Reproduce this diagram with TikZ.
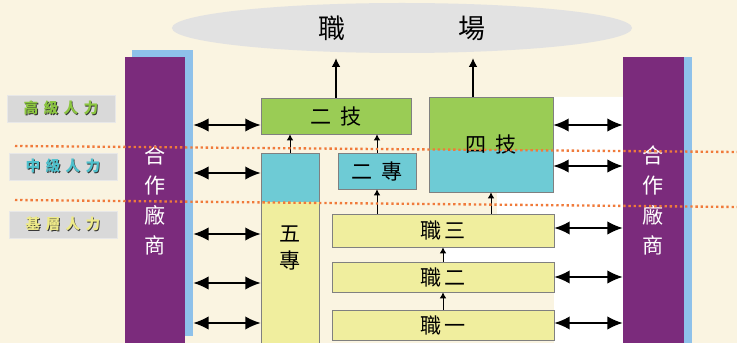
\documentclass[tikz,border=0pt]{standalone}
\usepackage{fontspec}
\newfontfamily\cjk{Noto Sans CJK TC}
\usetikzlibrary{arrows.meta}
\usetikzlibrary{fit}
\usetikzlibrary{shapes.geometric}

\definecolor{cream}{HTML}{FAF4E1}
\definecolor{ellgray}{HTML}{E2E2E2}
\definecolor{barpurple}{HTML}{7B2B7C}
\definecolor{shadeblue}{HTML}{8EC1EA}
\definecolor{boxgreen}{HTML}{9ACC55}
\definecolor{boxcyan}{HTML}{6ECBD5}
\definecolor{boxyellow}{HTML}{F0EE9E}
\definecolor{boxgray}{HTML}{808080}
\definecolor{dotorange}{HTML}{F07A3A}
\definecolor{labgray}{HTML}{D9D9D9}
\definecolor{labgreen}{HTML}{8CC641}
\definecolor{labcyan}{HTML}{4DC0CC}
\definecolor{labyellow}{HTML}{EEEA88}

\newcommand{\gap}{\hspace{2.5mm}}
\newcommand{\lgap}{\hspace{1.6mm}}
% coloured text with a dark shadow
\newcommand{\shadowed}[2]{\makebox[0pt][l]{\kern0.7pt\raisebox{-0.7pt}{\color{black!80}#2}}{\color{#1}#2}}

\begin{document}
\begin{tikzpicture}[
    x=0.03cm, y=-0.03cm,
    font=\cjk,
    box/.style={draw=boxgray, line width=0.6pt, inner sep=0pt},
    txt/.style={label={[font=\cjk\fontsize{18}{21}\selectfont]center:#1}},
    bar/.style={fill=barpurple, inner sep=0pt},
    bartxt/.style={label={[font=\cjk\fontsize{18}{25.6}\selectfont, text=white,
        align=center]center:#1}},
    lab/.style={fill=labgray, draw=labgray!60!white, inner sep=0pt},
    labtxt/.style={label={[font=\cjk\bfseries\fontsize{12.5}{14}\selectfont]center:#1}},
    dbl/.style={{Latex[length=4.6mm,width=4mm]}-{Latex[length=4.6mm,width=4mm]},
        line width=1.4pt},
    up/.style={-{Latex[length=2.6mm,width=2.6mm]}, line width=1pt},
    upsmall/.style={-{Latex[length=1.8mm,width=2mm]}, line width=0.8pt},
    level/.style={dotorange, line width=2pt, dash pattern=on 2pt off 2.4pt}]

    % background
    \fill[cream] (0,0) rectangle (737,343);
    \useasboundingbox (0,0) rectangle (737,343);
    % white area next to the right bar
    \fill[white] (553,97) -- (623,97) -- (623,343) -- (554,343) -- (554,262)
        -- (443,262) -- (443,247) -- (554,247) -- (554,214) -- (497,214)
        -- (497,192) -- (553,192) -- cycle;

    % job market ellipse
    \node[ellipse, fill=ellgray, minimum width=13.8cm, minimum height=1.5cm,
        font=\cjk\fontsize{23}{26}\selectfont] at (402,28) (zhichang)
        {職\hspace{3.4cm}場};

    % partner companies, left and right
    \node[fill=shadeblue, inner sep=0pt, fit={(132,50) (193,336)}] (lshade) {};
    \node[bar, bartxt={合\\作\\廠\\商}, fit={(125,57) (185,343)}] (lbar) {};
    \node[fill=shadeblue, inner sep=0pt, fit={(631,57) (692,343)}] (rshade) {};
    \node[bar, bartxt={合\\作\\廠\\商}, fit={(623,57) (684,343)}] (rbar) {};

    % levels on the left
    \node[lab, labtxt={\shadowed{labgreen}{高\lgap 級\lgap 人\lgap 力}}, fit={(7,95) (115,122)}] (high) {};
    \node[lab, labtxt={\shadowed{labcyan}{中\lgap 級\lgap 人\lgap 力}}, fit={(9,153) (117,180)}] (mid) {};
    \node[lab, labtxt={\shadowed{labyellow}{基\lgap 層\lgap 人\lgap 力}}, fit={(9,211) (117,238)}] (base) {};

    % schools
    \node[box, fill=boxgreen, txt={二\gap 技}, fit={(261,98) (411,134)}] (erji) {};
    \fill[boxgreen] (429,97) rectangle (553,150);
    \fill[boxcyan] (429,150) rectangle (553,192);
    \node[box, txt={四\gap 技}, fit={(429,97) (553,192)}] (siji) {};
    \node[box, fill=boxcyan, txt={二\gap 專}, fit={(338,153) (416,189)}] (erzhuan) {};
    \fill[boxcyan] (261,153) rectangle (319,202);
    \fill[boxyellow] (261,202) rectangle (319,343);
    \node[box, fit={(261,153) (319,343)}] (wuzhuan) {};
    \node[font=\cjk\fontsize{18}{23}\selectfont, align=center] at (290,248) (wuzhuant) {五\\專};
    \node[box, fill=boxyellow, txt={職\hspace{1mm}三}, fit={(332,214) (554,247)}] (zhisan) {};
    \node[box, fill=boxyellow, txt={職\hspace{1mm}二}, fit={(332,262) (554,292)}] (zhier) {};
    \node[box, fill=boxyellow, txt={職\hspace{1mm}一}, fit={(332,310) (554,340)}] (zhiyi) {};

    % rows of the double arrows
    \coordinate (l1) at (0,125);
    \coordinate (l2) at (0,173);
    \coordinate (l3) at (0,234);
    \coordinate (l4) at (0,283);
    \coordinate (l5) at (0,323);
    \coordinate (r1) at (0,125);
    \coordinate (r2) at (0,166);
    \coordinate (r3) at (0,228);
    \coordinate (r4) at (0,277);
    \coordinate (r5) at (0,323);
    \coordinate (c4) at (473,0);

    % companies <-> schools
    \draw[dbl] (lshade.east |- l1) -- (erji.west |- l1);
    \draw[dbl] (lshade.east |- l2) -- (wuzhuan.west |- l2);
    \draw[dbl] (lshade.east |- l3) -- (wuzhuan.west |- l3);
    \draw[dbl] (lshade.east |- l4) -- (wuzhuan.west |- l4);
    \draw[dbl] (lshade.east |- l5) -- (wuzhuan.west |- l5);
    \draw[dbl] (siji.east |- r1) -- (rbar.west |- r1);
    \draw[dbl] (siji.east |- r2) -- (rbar.west |- r2);
    \draw[dbl] (zhisan.east |- r3) -- (rbar.west |- r3);
    \draw[dbl] (zhier.east |- r4) -- (rbar.west |- r4);
    \draw[dbl] (zhiyi.east |- r5) -- (rbar.west |- r5);

    % paths upwards
    \draw[up, shorten >=0.15cm] (erji.north) -- (erji.north |- zhichang.south);
    \draw[up, shorten >=0.15cm] (siji.north -| c4) -- (c4 |- zhichang.south);
    \draw[upsmall] (wuzhuan.north) -- (wuzhuan.north |- erji.south);
    \draw[upsmall] (erzhuan.north) -- (erzhuan.north |- erji.south);
    \draw[upsmall] (zhisan.north -| erzhuan) -- (erzhuan.south);
    \draw[upsmall] (zhisan.north -| siji) -- (siji.south);
    \draw[upsmall] (zhier.north) -- (zhisan.south);
    \draw[upsmall] (zhiyi.north) -- (zhier.south);

    % dotted borders between the levels
    \draw[level] (15,146) -- (737,152);
    \draw[level] (15,200) -- (737,207);

\end{tikzpicture}
\end{document}
